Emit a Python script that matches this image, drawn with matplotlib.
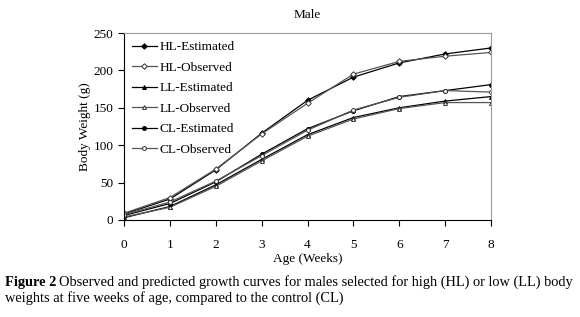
import matplotlib
matplotlib.use("Agg")
import matplotlib.pyplot as plt

weeks = [0, 1, 2, 3, 4, 5, 6, 7, 8]
hl_est = [8, 28, 67, 116, 160, 191, 210, 222, 230]
hl_obs = [9, 30, 68, 115, 156, 195, 212, 219, 224]
ll_est = [3, 18, 47, 81, 114, 137, 150, 159, 165]
ll_obs = [4, 17, 45, 79, 112, 135, 149, 157, 157]
cl_est = [6, 22, 51, 88, 122, 146, 165, 173, 181]
cl_obs = [7, 24, 52, 86, 120, 147, 164, 173, 171]
yticks = [0, 50, 100, 150, 200, 250]

plt.rcParams['font.family'] = ['Liberation Serif', 'DejaVu Serif']

fig = plt.figure(figsize=(5.8, 3.17), dpi=100)
ax = fig.add_axes([124/580, 1-220/317, (491-124)/580, (220-33)/317])

kw = dict(lw=0.9, ms=2.8, mew=0.7)
ax.plot(weeks, hl_est, color='black', marker='D', mfc='black', label='HL-Estimated', **kw)
ax.plot(weeks, hl_obs, color='#555555', marker='D', mfc='white', mec='#333333', label='HL-Observed', **kw)
ax.plot(weeks, ll_est, color='black', marker='^', mfc='black', label='LL-Estimated', **kw)
ax.plot(weeks, ll_obs, color='#555555', marker='^', mfc='white', mec='#333333', label='LL-Observed', **kw)
ax.plot(weeks, cl_est, color='black', marker='o', mfc='black', label='CL-Estimated', **kw)
ax.plot(weeks, cl_obs, color='#555555', marker='o', mfc='white', mec='#333333', label='CL-Observed', **kw)

ax.set_xlim(0, 8)
ax.set_ylim(0, 250)
ax.set_xticks(weeks)
ax.set_yticks(yticks)
for s in ['top', 'right']:
    ax.spines[s].set_color('#999999')
    ax.spines[s].set_linewidth(0.8)
for s in ['left', 'bottom']:
    ax.spines[s].set_color('black')
    ax.spines[s].set_linewidth(0.8)
ax.tick_params(axis='both', direction='out', length=4, width=0.8, labelsize=9.5)
ax.tick_params(axis='x', pad=10)
ax.set_xlabel('Age (Weeks)', fontsize=9.5, labelpad=1)
ax.set_ylabel('Body Weight (g)', fontsize=9.5, labelpad=2)
ax.set_title('Male', fontsize=9.5, pad=11)

leg = ax.legend(loc='upper left', frameon=False, fontsize=9.5, handlelength=1.9,
                handletextpad=0.2, labelspacing=0.63, borderaxespad=0.2,
                bbox_to_anchor=(0.0, 1.0))

fs_cap = 10.4
y1 = 1 - 286/317
y2 = 1 - 302/317
t_bold = fig.text(5/580, y1, 'Figure 2', fontsize=fs_cap, fontweight='bold', va='baseline')
fig.canvas.draw()
bb = t_bold.get_window_extent(renderer=fig.canvas.get_renderer())
x_after = (bb.x1 + 3) / (580)
fig.text(x_after, y1,
         'Observed and predicted growth curves for males selected for high (HL) or low (LL) body',
         fontsize=fs_cap, va='baseline')
fig.text(5/580, y2,
         'weights at five weeks of age, compared to the control (CL)',
         fontsize=fs_cap, va='baseline')

fig.savefig('out.png', dpi=100)
